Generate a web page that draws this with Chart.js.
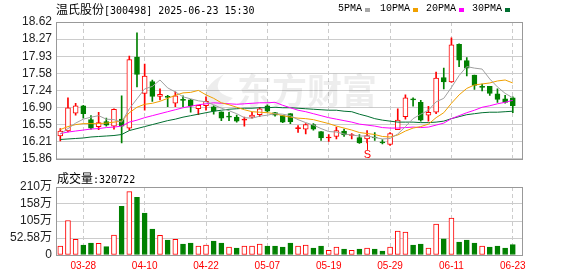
<!DOCTYPE html>
<html><head><meta charset="utf-8">
<script src="https://cdn.jsdelivr.net/npm/chart.js@4.4.0/dist/chart.umd.min.js"></script>
<style>
html,body{margin:0;padding:0;background:#fff;}
#wrap{position:relative;width:578px;height:276px;overflow:hidden;background:#fff;}
canvas{position:absolute;left:0;}
.t{position:absolute;white-space:nowrap;color:#000;}
.cj{font-family:"Noto Sans CJK SC";font-size:12px;}
.mono{font-family:"DejaVu Sans Mono";font-size:10px;}
.lg{font-family:"Liberation Mono";font-size:10px;line-height:12px;}
.sq{position:absolute;width:5px;height:4px;}
</style></head><body>
<div id="wrap">
<canvas id="pc" width="578" height="170" style="top:0"></canvas>
<canvas id="vc" width="578" height="106" style="top:170px"></canvas>
<div class="t" style="left:56px;top:0px;line-height:17px;"><span class="cj">温氏股份</span><span class="mono">[300498] 2025-06-23 15:30</span></div>
<div class="t lg" style="left:338px;top:3px;">5PMA</div><div class="sq" style="left:365px;top:8px;background:#a8a8a8"></div>
<div class="t lg" style="left:380px;top:3px;">10PMA</div><div class="sq" style="left:413px;top:8px;background:#f0a000"></div>
<div class="t lg" style="left:426px;top:3px;">20PMA</div><div class="sq" style="left:459px;top:8px;background:#ff00ff"></div>
<div class="t lg" style="left:472px;top:3px;">30PMA</div><div class="sq" style="left:505px;top:8px;background:#006f30"></div>
<div class="t" style="left:57px;top:169px;line-height:17px;"><span class="cj">成交量</span><span class="mono">:320722</span></div>
</div>
<script>
// ---- data ----
const dateLabels = ['03-28','04-10','04-22','05-07','05-19','05-29','06-11','06-23'];
const labelIdx = [3,11,19,27,35,43,51,59];
const priceTickLabels = ['15.86','16.21','16.55','16.90','17.24','17.58','17.93','18.27','18.62'];
const volTickLabels = ['0','52.58万','105万','158万','210万'];

const openP  = [16.32,16.42,16.78,16.93,16.65,16.51,16.61,16.52,16.66,16.48,17.91,17.18,17.42,17.12,17.11,16.98,17.06,17.05,16.87,16.93,16.91,16.81,16.71,16.70,16.64,16.70,16.75,16.93,16.79,16.73,16.77,16.47,16.46,16.55,16.41,16.28,16.31,16.42,16.33,16.29,16.26,16.30,16.20,16.15,16.45,16.71,17.07,17.00,16.74,16.80,17.50,17.41,18.17,17.84,17.55,17.31,17.32,17.17,17.07,17.09];
const highP  = [16.47,17.09,16.98,16.94,16.73,16.80,16.68,16.87,17.13,17.93,18.40,17.77,17.45,17.27,17.14,17.21,17.13,17.06,16.94,17.11,16.93,16.81,16.80,16.74,16.70,16.80,16.90,16.95,16.80,16.73,16.77,16.53,16.57,16.57,16.41,16.35,16.50,16.46,16.37,16.35,16.43,16.39,16.25,16.39,16.87,17.15,17.09,17.04,16.92,17.61,17.69,18.30,18.18,17.90,17.55,17.37,17.32,17.27,17.14,17.11];
const lowP   = [16.22,16.40,16.74,16.68,16.46,16.45,16.52,16.46,16.18,16.44,17.31,16.84,17.02,17.05,16.91,16.91,16.91,16.80,16.75,16.84,16.76,16.63,16.63,16.60,16.52,16.68,16.71,16.80,16.72,16.59,16.57,16.39,16.36,16.44,16.23,16.21,16.26,16.31,16.26,16.17,16.18,16.23,16.16,16.13,16.45,16.66,16.92,16.62,16.62,16.77,17.27,17.40,17.72,17.53,17.26,17.23,17.14,17.00,16.98,16.79];
const closeP = [16.42,16.89,16.93,16.77,16.48,16.59,16.54,16.86,16.52,17.86,17.56,17.53,17.12,17.16,17.10,17.13,17.04,16.93,16.94,17.02,16.82,16.68,16.70,16.62,16.65,16.74,16.87,16.82,16.74,16.60,16.61,16.48,16.55,16.46,16.28,16.29,16.43,16.34,16.34,16.18,16.33,16.28,16.18,16.37,16.64,17.09,17.05,16.64,16.80,17.49,17.41,18.16,17.85,17.69,17.34,17.30,17.18,17.06,17.00,16.93];

const ma5  = [16.36,16.47,16.58,16.66,16.70,16.73,16.66,16.65,16.60,16.87,17.07,17.27,17.32,17.45,17.29,17.21,17.11,17.07,17.03,17.01,16.95,16.88,16.83,16.77,16.69,16.68,16.72,16.74,16.77,16.76,16.73,16.65,16.59,16.54,16.47,16.41,16.40,16.36,16.34,16.32,16.32,16.29,16.26,16.27,16.36,16.51,16.67,16.76,16.84,17.01,17.08,17.30,17.54,17.72,17.69,17.67,17.47,17.31,17.18,17.09];
const ma10 = [16.45,16.51,16.55,16.57,16.57,16.57,16.58,16.60,16.62,16.79,16.90,16.96,16.98,17.02,17.08,17.14,17.19,17.20,17.24,17.15,17.08,16.99,16.95,16.90,16.85,16.81,16.80,16.79,16.77,16.73,16.70,16.68,16.67,16.65,16.61,16.57,16.52,16.48,16.44,16.39,16.37,16.35,16.31,16.30,16.34,16.42,16.48,16.51,16.56,16.69,16.79,16.98,17.15,17.28,17.35,17.37,17.39,17.43,17.45,17.39];
const ma20 = [16.37,16.40,16.42,16.44,16.46,16.47,16.49,16.50,16.52,16.60,16.64,16.69,16.73,16.77,16.81,16.85,16.89,16.92,16.95,16.97,16.99,16.98,16.97,16.96,16.97,16.98,16.99,16.99,17.00,16.94,16.89,16.84,16.81,16.77,16.73,16.69,16.66,16.63,16.60,16.56,16.54,16.52,16.49,16.48,16.48,16.49,16.50,16.49,16.50,16.54,16.58,16.67,16.73,16.79,16.84,16.90,16.93,16.97,17.00,17.04];
const ma30 = [16.25,16.26,16.27,16.28,16.30,16.31,16.32,16.33,16.35,16.43,16.47,16.51,16.55,16.59,16.63,16.66,16.70,16.73,16.76,16.79,16.82,16.84,16.86,16.87,16.88,16.88,16.89,16.89,16.90,16.89,16.89,16.88,16.87,16.86,16.85,16.84,16.84,16.82,16.81,16.76,16.72,16.67,16.64,16.62,16.60,16.60,16.60,16.59,16.59,16.60,16.62,16.67,16.71,16.75,16.77,16.79,16.80,16.80,16.81,16.82];

const volume = [27.7,106.7,48.2,30.8,36.9,35.9,25.7,61.6,150.9,196.0,178.6,129.3,80.1,60.6,46.2,48.2,33.9,36.9,27.7,30.8,43.1,36.9,24.6,21.6,27.7,27.7,33.9,27.7,27.7,24.6,36.9,27.7,30.8,21.6,27.7,14.4,24.6,18.5,14.4,18.5,21.6,18.5,12.3,24.6,73.9,70.8,30.8,33.9,21.6,95.5,50.3,113.9,40.0,46.2,36.9,27.7,24.6,27.7,21.6,32.07];
const volUp = [1,1,1,0,0,1,0,1,0,1,0,0,0,1,0,1,0,0,1,1,0,0,1,0,1,1,1,0,0,0,0,1,1,0,0,1,1,0,1,0,1,0,0,1,1,1,0,0,1,1,0,1,0,0,0,1,0,0,0,0];
const sSignalIdx = 40;

// ---- style ----
const RED = '#ff0000', GREEN = '#008000';
const XMIN = -0.56, XMAX = 60.2;
const fontAx = "'Liberation Sans','Noto Sans CJK SC',sans-serif";

const up = closeP.map((c,i)=> c >= openP[i]);
const bodyFill = closeP.map((c,i)=> up[i] ? (Math.abs(c-openP[i]) < 0.02 ? RED : '#ffffff') : GREEN);
const candleCol = up.map(u => u ? RED : GREEN);

const framePlugin = {id:'frame', afterDraw(c){
  const a=c.chartArea, x=c.ctx; x.save(); x.strokeStyle='#999'; x.lineWidth=1;
  x.strokeRect(Math.round(a.left)+0.5, Math.round(a.top)+0.5, Math.round(a.right-a.left), Math.round(a.bottom-a.top));
  x.restore();
}};
const watermark = {id:'wm', beforeDatasetsDraw(c){
  const x=c.ctx; x.save(); x.fillStyle='rgba(0,0,0,0.07)';
  // faint logo swoosh
  x.beginPath(); x.moveTo(214,112); x.quadraticCurveTo(192,92,224,74); x.quadraticCurveTo(208,92,233,98);
  x.quadraticCurveTo(224,106,214,112); x.fill();
  x.font="bold 35px 'Noto Sans CJK SC'"; x.textBaseline='middle'; x.textAlign='left';
  x.fillText('东方财富', 237, 91);
  x.restore();
}};
const sMark = {id:'smark', afterDatasetsDraw(c){
  const x=c.ctx, xs=c.scales.x, ys=c.scales.y;
  const px=Math.round(xs.getPixelForValue(sSignalIdx))+0.5, py=ys.getPixelForValue(lowP[sSignalIdx]);
  x.save(); x.strokeStyle=RED; x.lineWidth=1; x.beginPath(); x.moveTo(px,py); x.lineTo(px,py+7); x.stroke();
  x.fillStyle=RED; x.font="11px 'Liberation Sans'"; x.textAlign='center'; x.textBaseline='top';
  x.fillText('S', px, py+7);
  x.restore();
}};

function xScale(showLabels){
  return {type:'linear', min:XMIN, max:XMAX, offset:false,
    afterBuildTicks:s=>{s.ticks=labelIdx.map(v=>({value:v}));},
    ticks:{display:showLabels, autoSkip:false, maxRotation:0, color:RED, padding:5,
      font:{family:fontAx,size:10}, callback:(v)=>dateLabels[labelIdx.indexOf(v)]},
    grid:{color:'#cccccc', drawTicks:false, offset:false},
    border:{display:false, dash:[4,3]},
    afterFit:s=>{s.height = showLabels ? 21 : 0;}
  };
}
const lineDs = (label, arr, col) => ({type:'line', label, data:arr.map((v,i)=>({x:i,y:v})),
  borderColor:col, borderWidth:1, pointRadius:0, tension:0, order:0});

new Chart(document.getElementById('pc'), {
  type:'bar',
  data:{datasets:[
    lineDs('5PMA', ma5, '#a0a0a0'),
    lineDs('10PMA', ma10, '#f0a000'),
    lineDs('20PMA', ma20, '#ff00ff'),
    lineDs('30PMA', ma30, '#006f30'),
    {label:'body', data:openP.map((o,i)=>({x:i,y:[o,closeP[i]]})), backgroundColor:bodyFill, borderColor:candleCol,
      borderWidth:1, borderSkipped:false, barThickness:5, grouped:false, minBarLength:1, order:1},
    {label:'wick', data:lowP.map((l,i)=>({x:i,y:[l,highP[i]]})), backgroundColor:candleCol,
      borderWidth:0, barThickness:1, grouped:false, order:2}
  ]},
  options:{responsive:false, animation:false, devicePixelRatio:1,
    layout:{padding:{left:0,right:56,top:22,bottom:5}},
    plugins:{legend:{display:false}, tooltip:{enabled:false}},
    scales:{
      x:xScale(false),
      y:{min:15.86, max:18.62,
        afterBuildTicks:s=>{s.ticks=priceTickLabels.map((t,k)=>({value:15.86+k*0.345}));},
        ticks:{autoSkip:false, padding:4, color:'#222', font:{family:fontAx,size:12}, callback:(v,i)=>priceTickLabels[i]},
        grid:{color:'#cccccc', drawTicks:false}, border:{display:false},
        afterFit:s=>{s.width=56;}}
    }},
  plugins:[watermark, sMark, framePlugin]
});

new Chart(document.getElementById('vc'), {
  type:'bar',
  data:{datasets:[
    {label:'vol', data:volume.map((v,i)=>({x:i,y:v})),
      backgroundColor:volUp.map(u=>u?'#ffffff':GREEN), borderColor:volUp.map(u=>u?RED:GREEN),
      borderWidth:1, borderSkipped:false, barThickness:5, grouped:false}
  ]},
  options:{responsive:false, animation:false, devicePixelRatio:1,
    layout:{padding:{left:0,right:56,top:17,bottom:0}},
    plugins:{legend:{display:false}, tooltip:{enabled:false}},
    scales:{
      x:xScale(true),
      y:{min:0, max:210.32,
        afterBuildTicks:s=>{s.ticks=volTickLabels.map((t,k)=>({value:k*52.58}));},
        ticks:{autoSkip:false, padding:4, color:'#222', font:{family:fontAx,size:12}, callback:(v,i)=>volTickLabels[i]},
        grid:{color:'#cccccc', drawTicks:false}, border:{display:false},
        afterFit:s=>{s.width=56;}}
    }},
  plugins:[framePlugin]
});
</script>
</body></html>
